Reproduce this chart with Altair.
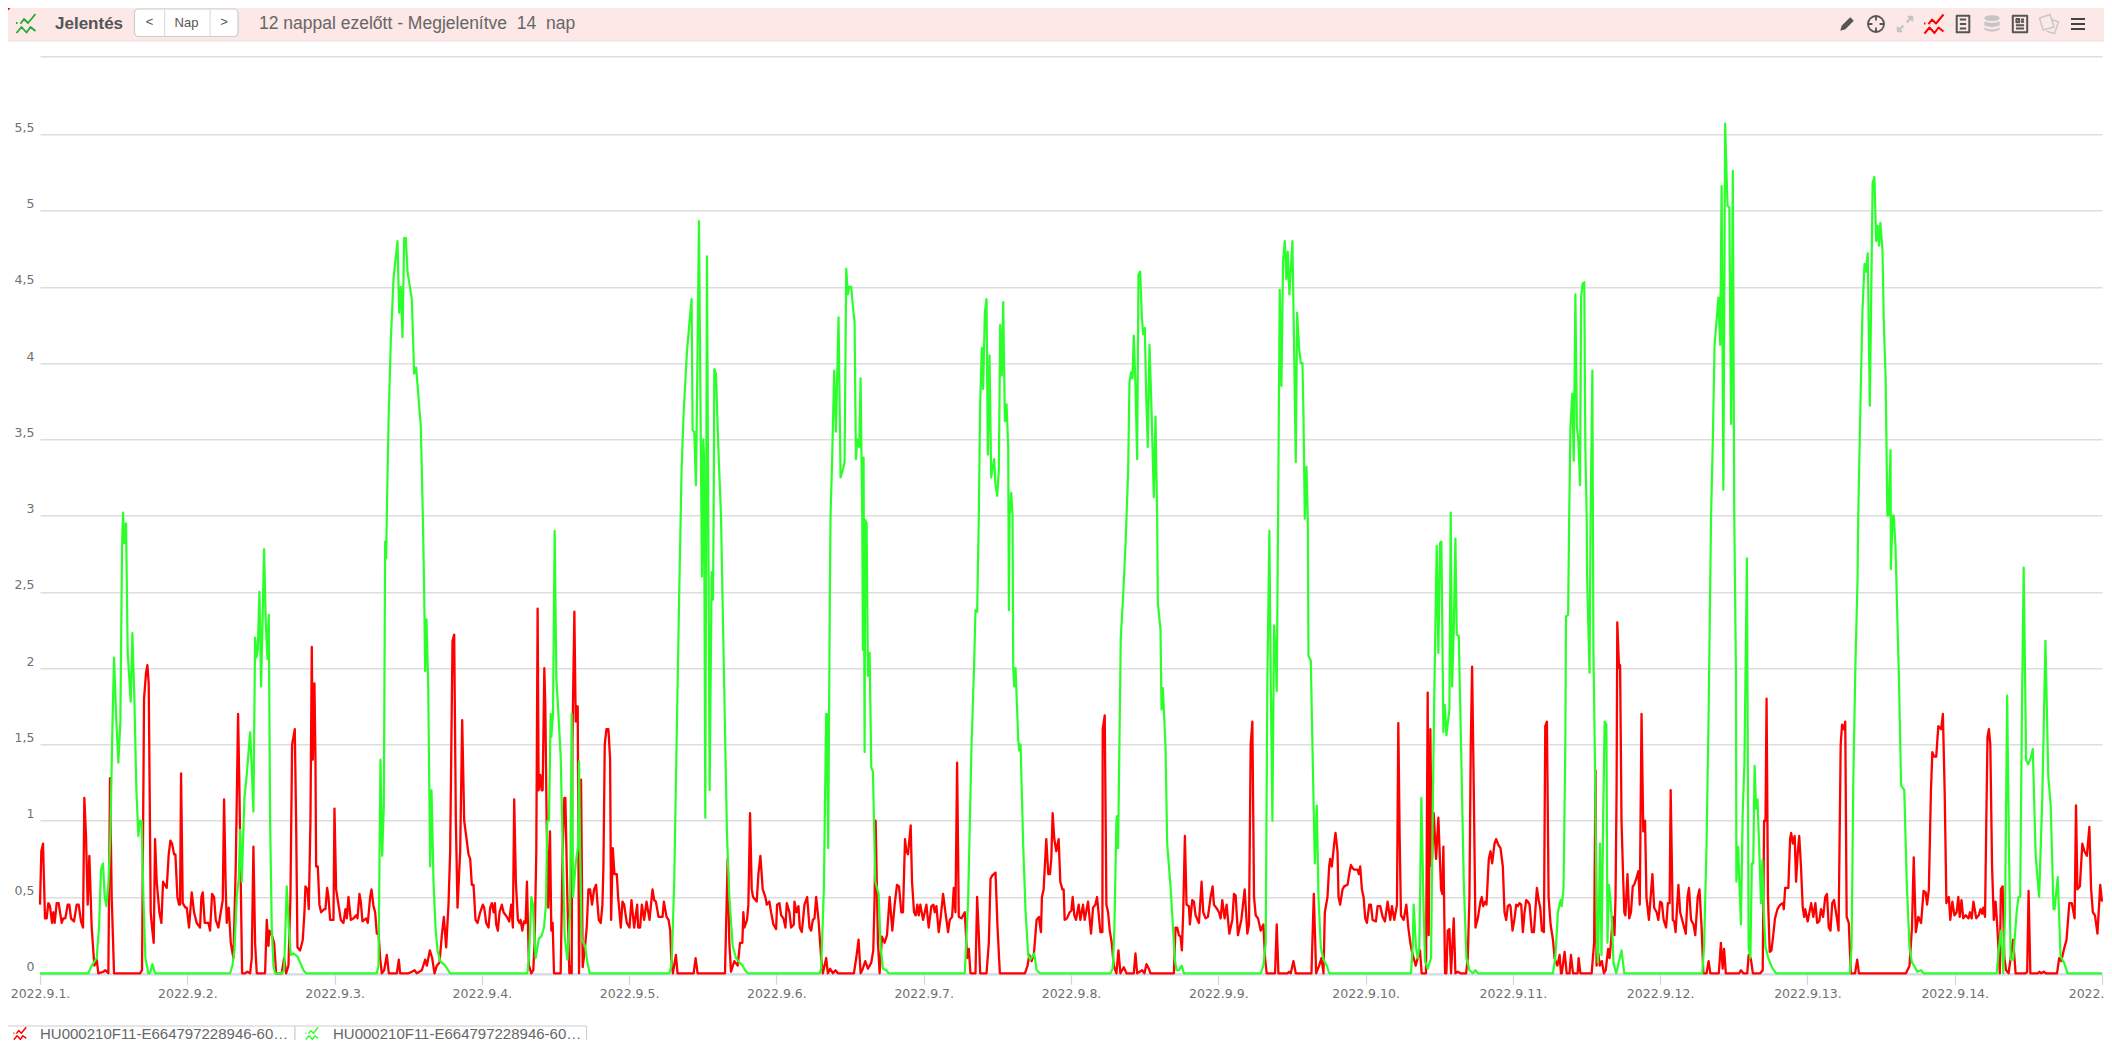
import altair as alt
import pandas as pd

# Readings: flat (time, value) pairs. Time is read along the day ruler of each stretch,
# in ruler units calibrated by two day ticks; value is in the chart's unit.
RULERS = {"a": (120, 0, 1445, 3), "b": (325, 4, 1207, 6), "c": (92, 7, 1415, 10), "d": (280, 11, 1538, 14)}

red_a = [120,.45,124,.8,129,.85,135,.36,140,.36,145,.46,150,.44,156,.33,160,.4,164,.33,170,.46,176,.46,185,.33,190,.36,196,.36,203,.45,208,.45,213,.36,222,.34,230,.45,236,.45,243,.34,249,.3,253,1.15,258,.9,263,.45,268,.77,275,.3,283,.05,290,.09,295,0,310,.01,316,.02,325,0,330,1.28,335,.5,342,0,420,0,426,.02,432,1.8,438,1.97,442,2.02,446,1.9,452,.4,456,.3,461,.2,465,.88,470,.6,478,.4,484,.33,489,.6,500,.56,506,.78,511,.87,516,.85,522,.78,526,.78,532,.5,537,.45,540,.45,543,1.31,548,.46,556,.43,
560,.43,567,.3,575,.53,582,.4,590,.33,600,.3,604,.5,608,.53,614,.33,625,.33,630,.28,636,.52,642,.5,647,.35,655,.3,662,.4,668,.48,672,1.14,677,.55,680,.33,686,.43,692,.2,700,.1,707,.7,714,1.7,718,1.2,722,.6,726,0,735,0,742,.01,750,0,755,.1,760,.83,765,.2,770,0,795,0,800,.35,805,.18,808,.28,815,.25,822,.2,828,0,845,0,852,.1,858,0,865,.05,871,.5,876,1.5,884,1.6,888,1.0,892,.17,900,.15,908,.22,913,.4,916,.57,922,.55,926,.42,931,1.0,935,2.14,938,1.4,943,1.9,946,1.4,948,.7,953,.7,958,.45,963,.4,972,.42,976,.42,981,.56,985,.5,990,.35,1000,.35,1003,1.08,1008,.55,1015,.45,1022,.35,1030,.33,1036,.42,1040,.36,1045,.5,1052,.35,1060,.36,1068,.38,1072,.36,1078,.52,1082,.47,1087,.34,1098,.36,1103,.33,1110,.5,1114,.55,1120,.44,1125,.4,1130,.26,1135,.27,1140,.1,1145,0,1152,.02,1160,.12,1166,0,1190,0,1196,.09,1200,0,1225,0,1235,.01,1243,.02,1250,0,1265,.02,1275,.09,1280,.05,1289,.15,1296,.1,1303,0,1310,.05,1318,.07,1325,.25,1331,.37,1338,.17,1345,.45,1350,.8,1357,2.18,1362,2.22,1367,1.0,1372,.43,1380,.8,1386,1.66,1392,1.0,1398,.9,1405,.78,1410,.75,1415,.58,1420,.58,1426,.35,1432,.33,1440,.4,1448,.45,1452,.43,1458,.33,1465,.3,1470,.43,1475,.46,1480,.4,1484,.46,1488,.32,1493,.28,1498,.4,1505,.45,1510,.4,1520,.37,1527,.34,1533,.45,1538,.3,1542,1.14,1547,.6,1553,.35,1558,.33]

red_b = [0,.35,5,.28,10,.34,15,.33,19,.6,25,.05,32,0,38,.02,42,.2,47,.8,51,2.39,54,1.2,59,1.3,63,1.2,66,1.2,71,2.0,74,1.75,78,1.0,83,.43,88,.93,92,.28,96,.33,100,0,120,0,126,.8,131,1.15,134,1.15,140,.5,146,0,150,.05,153,0,155,1.5,161,2.37,165,1.65,168,1.75,171,1.75,175,0,181,1.27,186,.04,192,.15,198,.3,203,.55,208,.55,214,.45,220,.55,226,.58,234,.35,240,.33,245,.45,248,.7,252,1.5,257,1.6,263,1.6,268,1.4,271,.35,276,.82,281,.65,288,.65,292,.5,300,.3,305,.47,310,.45,318,.33,326,.3,332,.48,340,.3,349,.45,352,.3,358,.3,363,.45,370,.35,377,.47,386,.35,395,.55,400,.48,405,.47,413,.37,425,.37,429,.47,437,.37,443,.35,448,.28,451,.1,456,0,465,.12,470,0,518,0,524,.1,530,0,612,0,620,.75,625,.2,630,.01,640,.08,650,.05,657,.2,664,.2,667,.4,670,.3,678,.35,682,.45,687,1.05,692,.55,696,.5,707,.47,712,.65,718,.77,725,.55,733,.5,737,.45,745,.47,750,.4,757,.32,765,.29,768,.45,775,.46,780,.38,787,.36,793,.3,797,.46,805,.4,810,.3,818,.32,820,.47,826,.4,832,.44,836,.3,842,.27,850,.45,858,.5,865,.3,870,.28,875,.35,880,.36,885,.5,892,.35,900,.1,905,0,915,.1,920,0,927,.03,935,0,943,.02,950,0,998,0,1005,.1,1012,.22,1018,0,1023,.02,1032,.08,1040,.03,1050,.07,1056,.15,1060,.5,1063,1.0,1070,.2,1075,0,1082,.24,1090,.2,1097,.25,1105,.5,1113,.28,1120,.45,1127,.58,1133,.57,1140,.4,1145,.4,1151,.88,1155,.8,1160,.78,1168,.97,1172,.6,1178,.4,1183,.38,1188,.45,1192,.38,1197,.45,1205,.35,1215,.45,1222,.3,1230,.44,1236,.45,1240,.4,1245,.44,1252,.27,1258,.37,1265,.52,1272,.4,1280,.27,1285,.35,1292,.37,1297,.56,1302,.4,1307,1.38,1312,.37,1320,.36,1330,.4,1337,.1,1342,.16,1347,0,1362,0,1367,.5,1372,.25,1376,0,1395,0,1402,.2,1407,.62,1412,.64,1422,.66,1428,.3,1435,0,1510,0,1518,.05,1523,.12,1530,.08,1537,.13,1545,.35,1552,.37,1558,.27]

red_c = [0,.3,5,.5,10,.55,18,.88,24,.65,29,.65,33,.75,37,1.05,42,.88,48,.8,55,.88,60,.6,66,.55,70,.55,73,.35,80,.36,88,.4,93,.41,97,.5,102,.38,107,.35,115,.45,120,.35,128,.45,133,.35,143,.47,152,.26,158,.43,165,.45,170,.5,180,.27,186,.27,187,1.6,193,1.69,198,.45,203,.4,208,.28,214,.2,220,.05,228,0,234,.15,240,0,250,.04,258,0,280,0,285,.13,290,0,305,.02,312,0,318,.06,325,.03,330,0,400,0,405,.3,410,.3,415,.25,420,.24,424,.15,428,.4,433,.9,438,.45,445,.44,448,.32,455,.48,460,.47,465,.38,475,.33,483,.6,488,.4,495,.36,502,.37,510,.5,516,.57,520,.45,530,.42,535,.4,540,.36,545,.48,552,.36,558,.45,566,.26,575,.35,580,.52,585,.51,592,.25,602,.35,612,.55,620,.26,625,.32,630,1.5,635,1.65,640,.5,645,.38,652,.36,660,.28,668,.32,673,.1,678,0,703,0,708,.32,713,0,740,0,745,.01,750,0,758,.08,765,0,812,0,819,.52,826,0,835,.05,842,.1,848,0,852,.4,860,.5,865,.7,868,.75,873,.7,880,.85,884,.92,890,.8,893,.5,898,.45,905,.55,910,.57,920,.58,925,.65,930,.71,935,.69,940,.68,950,.68,954,.65,958,.7,963,.55,968,.5,973,.36,978,.33,985,.45,990,.45,995,.35,1005,.34,1010,.44,1018,.44,1025,.37,1032,.34,1040,.47,1048,.35,1053,.44,1060,.35,1068,.45,1072,1.64,1076,.9,1080,.38,1088,.35,1096,.45,1102,.3,1108,.2,1112,.15,1118,.1,1124,.05,1130,.1,1137,.15,1142,0,1155,0,1160,1.84,1163,.25,1168,1.6,1172,.7,1178,1.05,1185,.75,1192,1.02,1200,.55,1204,.52,1207,.83,1212,0,1216,0,1220,.28,1225,.29,1230,0,1238,.36,1243,0,1250,.01,1258,0,1275,0,1280,.1,1285,.5,1289,1.5,1293,2.01,1298,1.2,1303,.3,1310,.36,1318,.47,1322,.5,1326,.44,1332,.47,1336,.45,1343,.75,1348,.8,1353,.72,1360,.85,1365,.88,1372,.84,1378,.82,1385,.7,1390,.4,1395,.35,1400,.44,1405,.45,1408,.44,1414,.28,1420,.36,1425,.45,1430,.44,1435,.46,1440,.45,1445,.27,1450,.4,1455,.48,1460,.47,1465,.45,1472,.27,1478,.27,1487,.56,1493,.47,1497,.43,1502,.28,1508,.27,1512,1.62,1517,1.65,1522,.5,1528,.32,1535,.22,1540,.1,1548,.05,1555,.12,1559,0]

red_d = [0,0,8,.14,14,0,22,0,26,.12,32,0,45,0,48,.1,53,0,85,0,92,.2,96,1.33,99,.05,104,.13,108,.05,114,.08,120,0,125,.02,132,.16,136,.1,140,.2,145,.37,150,.25,153,.5,156,1.2,158,2.3,163,2.0,166,2.02,170,1.0,175,.6,178,.4,181,.38,187,.65,192,.36,197,.4,202,.57,206,.58,212,.62,218,.67,222,.45,227,1.7,232,.93,237,1.0,241,.5,248,.35,258,.65,263,.43,270,.4,275,.35,280,.47,285,.46,290,.35,297,.3,302,.46,307,.46,310,1.2,316,.35,320,.34,324,.27,332,.58,337,.4,345,.33,353,.26,358,.5,362,.56,368,.35,375,.32,380,.25,387,.5,392,.55,398,.3,403,0,412,0,418,.08,423,0,447,0,453,.2,458,.03,462,.16,467,0,505,0,510,.02,517,0,528,0,532,.12,538,.1,544,0,565,0,572,.02,576,1.0,580,1.0,583,1.8,587,.5,592,.14,597,.15,602,.25,607,.36,614,.42,622,.45,630,.46,632,.42,636,.56,645,.56,650,.88,653,.92,658,.85,663,.9,667,.6,672,.8,676,.9,681,.7,686,.43,690,.37,693,.42,700,.34,710,.46,716,.37,722,.46,727,.33,733,.34,738,.42,744,.37,750,.5,755,.52,760,.3,765,.28,770,.46,775,.48,782,.38,788,.28,794,1.5,798,1.63,803,1.6,807,1.65,811,.37,817,.33,823,0,835,0,841,.09,846,0,980,0,990,.05,997,.3,1002,.76,1008,.27,1015,.37,1023,.33,1030,.54,1036,.53,1040,.45,1045,.55,1051,1.2,1055,1.45,1060,1.42,1066,1.42,1072,1.62,1080,1.6,1085,1.7,1090,1.2,1095,.46,1102,.5,1106,.35,1112,.47,1118,.38,1124,.4,1129,.5,1133,.37,1138,.48,1143,.36,1150,.38,1158,.36,1162,.4,1167,.36,1172,.47,1180,.36,1187,.38,1192,.42,1197,.39,1200,.43,1205,.37,1208,.9,1212,1.55,1216,1.6,1220,1.5,1225,.7,1230,.35,1235,.47,1240,.3,1247,0,1250,.55,1255,.57,1260,.1,1265,.02,1272,0,1285,.22,1292,0,1320,0,1325,.01,1329,.54,1334,0,1355,0,1360,.01,1365,0,1372,.01,1378,0,1410,0,1416,.1,1422,.08,1430,.16,1437,.22,1445,.46,1452,.46,1460,.36,1464,1.1,1468,.55,1475,.57,1482,.85,1488,.8,1495,.77,1502,.96,1507,.55,1512,.4,1518,.38,1525,.26,1533,.58,1538,.47]

green_a = [120,0,265,0,275,.05,290,.1,297,.3,303,.68,309,.72,314,.5,319,.44,325,.58,331,.9,337,1.6,342,2.07,348,1.7,355,1.38,361,1.65,366,2.8,369,3.02,373,2.82,378,2.95,383,2.1,392,1.78,397,2.23,403,1.8,409,1.2,415,.9,420,1.0,425,1.0,430,.5,436,.1,445,0,450,0,457,.06,465,0,690,0,697,.05,703,.15,710,.5,716,.62,720,.94,725,.6,733,1.15,740,1.3,750,1.58,755,1.35,760,1.06,765,2.2,769,2.07,773,2.12,778,2.5,783,1.88,792,2.78,797,2.3,802,2.06,806,2.35,810,1.0,815,.3,820,.05,825,0,845,0,852,.02,860,.57,866,.3,872,.12,880,.13,892,.11,900,.07,910,.02,918,0,1130,0,1135,.05,1141,1.4,1146,.77,1151,1.1,1155,2.83,1158,2.72,
1160,3.0,1165,3.6,1172,4.15,1180,4.55,1192,4.8,1197,4.33,1202,4.5,1207,4.17,1212,4.82,1217,4.82,1222,4.6,1235,4.42,1242,3.93,1248,3.97,1262,3.58,1268,3.0,1272,2.5,1275,1.98,1279,2.32,1284,1.9,1290,.7,1294,1.2,1300,.6,1306,.3,1312,.15,1320,.08,1335,.05,1350,0,1560,0]

green_b = [0,0,20,0,25,.1,32,.5,37,.45,45,.1,55,.23,62,.24,70,.3,76,.45,80,1.0,85,1.0,90,1.7,92,1.55,97,1.7,102,2.9,107,1.93,112,1.75,120,1.42,126,.83,132,.24,140,.09,148,.4,153,1.7,157,.5,165,.72,172,.83,175,1.39,178,.83,183,.22,193,.18,200,.07,207,0,220,0,445,0,452,.05,460,.6,467,1.5,475,2.5,482,3.3,488,3.67,498,4.07,505,4.25,512,4.42,515,3.56,520,3.55,525,3.2,530,4.1,534,4.93,538,3.9,543,2.6,547,3.5,549,3.4,553,1.02,558,4.7,562,3.0,566,1.2,572,2.63,576,2.45,578,3.0,580,3.96,585,3.93,592,3.45,600,3.0,606,2.3,612,1.6,618,.9,625,.5,635,.18,645,.1,655,.07,665,.05,672,.02,680,0,895,0,900,.03,908,.55,915,1.7,917,1.7,921,.82,926,2.5,928,3.0,932,3.3,939,3.95,944,3.55,952,4.3,958,3.25,965,3.3,970,3.35,975,4.62,980,4.45,984,4.5,990,4.5,995,4.37,1000,4.27,1004,3.37,1008,3.5,1014,3.45,1018,3.9,1023,2.97,1025,2.12,1027,3.38,1030,1.45,1032,2.97,1036,2.95,1040,1.95,1045,2.1,1050,1.35,1055,1.32,1062,.6,1072,.52,1078,.17,1085,.03,1095,.02,1102,0,1330,0,1340,.48,1350,1.48,1358,2.03,1362,2.38,1367,2.37,1372,3.0,1376,3.73,1381,4.1,1385,3.83,1390,4.33,1395,4.42,1399,3.4,1404,4.05,1409,3.25,1418,3.37,1422,3.2,1427,3.13,1432,3.3,1436,4.25,1441,3.92,1445,4.4,1450,3.62,1455,3.73,1460,3.45,1462,2.38,1464,3.0,1469,3.15,1473,3.0,1475,2.0,1478,1.88,1482,2.0,1490,1.53,1493,1.46,1497,1.5,1505,.83,1512,.4,1520,.12,1526,.09,1538,.13,1545,.02,1555,0]

green_c = [0,0,210,0,217,.03,222,.3,228,1.0,230,1.03,233,.82,237,1.5,241,2.2,248,2.47,255,2.8,258,2.98,263,3.28,267,3.87,272,3.94,276,3.9,280,4.18,285,3.86,290,3.37,294,4.58,299,4.6,304,4.31,308,4.19,313,4.23,317,3.8,322,3.45,327,4.12,332,3.78,336,3.45,340,3.12,345,3.65,350,2.98,352,2.43,360,2.25,363,1.73,367,1.87,370,1.73,375,1.48,380,.85,390,.57,398,.28,403,.09,408,.02,415,.02,423,.05,430,0,660,0,668,.05,675,.2,680,1.93,686,2.9,690,1.93,695,1.0,700,2.28,705,2.08,708,1.85,712,2.98,717,4.48,722,3.85,727,4.67,732,4.8,737,4.55,741,4.73,746,4.45,751,4.65,755,4.8,760,4.1,765,3.35,769,4.33,775,4.1,780,4.0,785,4.0,788,3.67,792,2.98,797,3.32,801,2.98,803,2.08,810,2.05,815,1.48,822,.72,828,1.1,833,.5,840,.17,848,.09,858,.05,865,0,1110,0,1115,.17,1118,.45,1125,.17,1130,.1,1135,.17,1141,1.15,1147,.5,1152,.08,1160,.03,1170,.1,1175,1.05,1180,1.86,1187,2.8,1192,2.1,1197,2.82,1201,2.83,1207,1.58,1211,1.76,1216,1.56,1225,1.73,1229,3.02,1233,1.88,1238,2.25,1243,2.85,1247,2.22,1253,2.21,1260,1.48,1268,.6,1276,.1,1285,.02,1295,0,1303,.02,1310,0,1535,0,1542,.1,1550,.4,1558,.48]

green_d = [0,.44,5,.56,10,1.5,12,2.34,18,2.35,21,2.98,24.5,3.57,30,3.8,34,3.36,38.7,4.45,43,3.58,47,3.5,52,3.2,55,4.43,59,4.52,64,4.53,67,3.45,71,2.98,72,2.6,79,1.97,82,2.98,87,3.95,90,2.13,95,1.27,100,.17,103,.07,109,.85,113,.12,118,1.05,122,1.65,127,1.63,130,.2,134,.58,138,.5,143,.33,147,.07,155,0,163,.08,170,.15,178,0,400,0,405,.17,412,.83,418,1.7,425,3.0,430,3.5,435,4.12,446,4.43,451,4.12,455,5.16,460,3.17,465,5.57,470,5.17,472,5.03,477,5.02,482,3.6,487,5.26,491,3.0,496,1.93,497,.6,502,.83,510,.32,515,1.05,520,1.38,527,2.72,532,.17,537,.1,541,.72,545,.72,549,1.36,553,1.08,557,1.14,562,.83,567,.46,571,.74,575,.4,580,.17,588,.1,598,.04,610,0,820,0,825,.17,830,1.27,836,2.03,842,2.58,844,3.0,850,3.7,856,4.35,862,4.65,866,4.6,871,4.72,877,3.72,885,5.18,890,5.22,895,4.8,899,4.9,903,4.77,907,4.92,913,4.74,917,4.25,922,3.9,927,3.0,930,3.0,936,3.43,937,2.65,942,3.0,945,3.0,950,2.8,960,1.92,966,1.23,975,1.2,982,.6,990,.17,997,.07,1003,.05,1012,.01,1023,.02,1030,0,1238,0,1243,.13,1250,.28,1257,0,1262,.4,1268,1.82,1273,.83,1278,.09,1285,.09,1295,.4,1300,.5,1305,.5,1310,1.7,1315,2.66,1322,1.4,1328,1.37,1335,1.41,1341,1.47,1349,.78,1359,.5,1368,1.15,1377,2.18,1385,1.29,1392,1.1,1400,.42,1403,.42,1412,.63,1420,.11,1430,.07,1440,0,1538,0]

y_ticks = [0, .5, 1, 1.5, 2, 2.5, 3, 3.5, 4, 4.5, 5, 5.5, 6.01]
title_text = "Jelentés"
range_text = "12 nappal ezelőtt - Megjelenítve\u00a0\u00a014\u00a0\u00a0nap"
tab_text = "HU000210F11-E664797228946-60…"
nav_labels = ["<", "Nap", ">"]


def series(sections):
    rows = []
    for key, flat in sections:
        a, da, b, db = RULERS[key]
        for u, v in zip(flat[::2], flat[1::2]):
            rows.append((da + (u - a) / (b - a) * (db - da), v))
    df = pd.DataFrame(rows, columns=["d", "v"])
    df["t"] = pd.Timestamp("2022-09-01") + pd.to_timedelta(df["d"], unit="D")
    return df[["t", "v"]]


red = series([("a", red_a), ("b", red_b), ("c", red_c), ("d", red_d)])
green = series([("a", green_a), ("b", green_b), ("c", green_c), ("d", green_d)])

PLOT_L, PLOT_T = 40, 56.3
FONT = "Liberation Sans"
one = pd.DataFrame({"k": [0]})


def X(v):
    return alt.value(v - PLOT_L)


def Y(v):
    return alt.value(v - PLOT_T)


def rect(x0, x1, y0, y1, **kw):
    return alt.Chart(one).mark_rect(**kw).encode(x=X(x0), x2=X(x1), y=Y(y0), y2=Y(y1))


def text(s, x, y, size, color="#555555", align="left", weight="normal"):
    return alt.Chart(one).mark_text(text=s, font=FONT, fontSize=size, color=color, align=align,
                                    baseline="middle", fontWeight=weight).encode(x=X(x), y=Y(y))


def icon(path, cx, cy, half, color, width=2.0, filled=False):
    kw = dict(shape=path, size=(2 * half) ** 2, opacity=1, filled=filled)
    if filled:
        kw.update(color=color, strokeWidth=0)
    else:
        kw.update(color=color, strokeWidth=width, strokeJoin="round")
    return alt.Chart(one).mark_point(**kw).encode(x=X(cx), y=Y(cy))


ZIG = ("M-1,-.05 L-.85,-.05 M-.55,.02 L-.2,-.45 L.2,-.05 L.95,-.95 "
       "M-.95,.95 L-.45,.35 L.05,.9 L.45,.35 L.95,.75")
CIRCLE = "M-1,0 A1,1 0 1 1 1,0 A1,1 0 1 1 -1,0 Z M0,-1 L0,-.45 M0,1 L0,.45 M-1,0 L-.45,0 M1,0 L.45,0"
PENCIL = "M-.85,.85 L-.65,.2 L.4,-.85 L.85,-.4 L-.2,.65 Z"
ARROWS = "M.2,-.2 L.9,-.9 M.35,-.9 L.9,-.9 L.9,-.35 M-.2,.2 L-.9,.9 M-.9,.35 L-.9,.9 L-.35,.9"
DOC = "M-.7,-.92 H.7 V.92 H-.7 Z M-.35,-.5 H.35 M-.35,0 H.35 M-.35,.5 H.35"
DB = ("M-.85,-.65 A.85,.32 0 1 1 .85,-.65 A.85,.32 0 1 1 -.85,-.65 Z "
      "M-.85,-.3 Q0,.1 .85,-.3 V.15 Q0,.55 -.85,.15 Z M-.85,.42 Q0,.82 .85,.42 V.65 Q0,1.05 -.85,.65 Z")
REPORT = "M-.8,-.92 H.8 V.92 H-.8 Z M-.4,-.55 H-.1 V-.2 H-.4 Z M.1,-.5 H.45 M.1,-.25 H.45 M-.45,.15 H.45 M-.45,.5 H.45"
COPIES = "M-.95,-.6 L.1,-.95 L.5,.3 L-.6,.6 Z M.3,-.45 L.95,-.2 L.55,.95 L-.25,.72"
BURGER = "M-1,-.7 H1 M-1,0 H1 M-1,.7 H1"

chrome = [
    rect(0, 2112, 4, 41, color="#fde8e8"),
    rect(0, 2112, 40.5, 41.5, color="#eadede"),
    icon("M-1,-1 L1,-1 L-1,1 Z", 9, 9.5, 6, "#ff0000", filled=True),
    icon(ZIG, 26, 23.5, 10, "#22aa33", 1.8),
    text(title_text, 55, 23.5, 17, "#555555", weight="bold"),
    rect(134.5, 238, 9, 36.5, color="#ffffff", stroke="#cccccc", strokeWidth=1.2, cornerRadius=4),
    rect(164, 165.2, 9.5, 36, color="#dddddd"),
    rect(209.5, 210.7, 9.5, 36, color="#dddddd"),
    text(nav_labels[0], 149.5, 22, 13, align="center"),
    text(nav_labels[1], 186.5, 22.5, 13, align="center"),
    text(nav_labels[2], 224, 22, 13, align="center"),
    text(range_text, 259, 23.5, 17.5, "#666666"),
    icon(PENCIL, 1847, 24, 8, "#555555", filled=True),
    icon(CIRCLE, 1876, 24, 8, "#555555", 1.8),
    icon(ARROWS, 1905, 24, 8, "#c4c4c4", 2.2),
    icon(ZIG, 1934, 24, 10, "#ff0000", 2.0),
    icon(DOC, 1963, 24, 9, "#555555", 2.0),
    icon(DB, 1992, 24, 9, "#c6c6c6", filled=True),
    icon(REPORT, 2020, 24, 9, "#555555", 2.0),
    icon(COPIES, 2049, 24, 10, "#c8c8c8", 1.5),
    icon(BURGER, 2078, 24, 7, "#444444", 2.0),
    rect(3, 295, 1026, 1060, color="#ffffff", stroke="#cccccc", strokeWidth=1),
    rect(295, 586.5, 1026, 1060, color="#ffffff", stroke="#cccccc", strokeWidth=1),
    icon(ZIG, 20, 1033.5, 6.5, "#ff0000", 1.5),
    icon(ZIG, 312, 1033.5, 6.5, "#33ff33", 1.5),
    text(tab_text, 40, 1033.5, 15, "#666666"),
    text(tab_text, 333, 1033.5, 15, "#666666"),
]

x_enc = alt.X("t:T", title=None,
              scale=alt.Scale(domain=["2022-09-01T00:00:00", "2022-09-15T00:00:00"], nice=False),
              axis=alt.Axis(format="%Y.%-m.%-d.", tickCount="day", grid=False, domainColor="#ccd6eb",
                            tickColor="#ccd6eb", domainWidth=1.2, tickWidth=1.2, tickSize=10, labelPadding=3,
                            labelFont="DejaVu Sans", labelFontSize=12.5, labelColor="#707070",
                            labelOverlap=False, labelFlush=False, labelBound=False))
y_enc = alt.Y("v:Q", title=None,
              scale=alt.Scale(domain=[-0.0066, 6.011], nice=False, zero=False),
              axis=alt.Axis(values=y_ticks, domain=False, ticks=False, grid=True, gridColor="#dddddd",
                            gridWidth=1.4, labelPadding=6, labelBaseline="bottom",
                            labelFont="DejaVu Sans", labelFontSize=12.5, labelColor="#707070",
                            labelExpr="datum.value > 5.9 ? '' : replace(format(datum.value, '~g'), '.', ',')"))

red_line = alt.Chart(red).mark_line(color="#ff0000", strokeWidth=2.3, strokeJoin="round").encode(x=x_enc, y=y_enc)
green_line = alt.Chart(green).mark_line(color="#2bff2b", strokeWidth=2.2, strokeJoin="round").encode(x=x_enc, y=y_enc)

chart = alt.layer(*chrome, red_line, green_line).properties(
    width=2062, height=918, background="#ffffff",
    padding={"left": 32, "top": 48.3, "right": 2, "bottom": 65.7},
    autosize=alt.AutoSizeParams(type="none"),
).configure_view(stroke=None)

chart.save("out.html", embed_options={"renderer": "svg", "actions": False})
